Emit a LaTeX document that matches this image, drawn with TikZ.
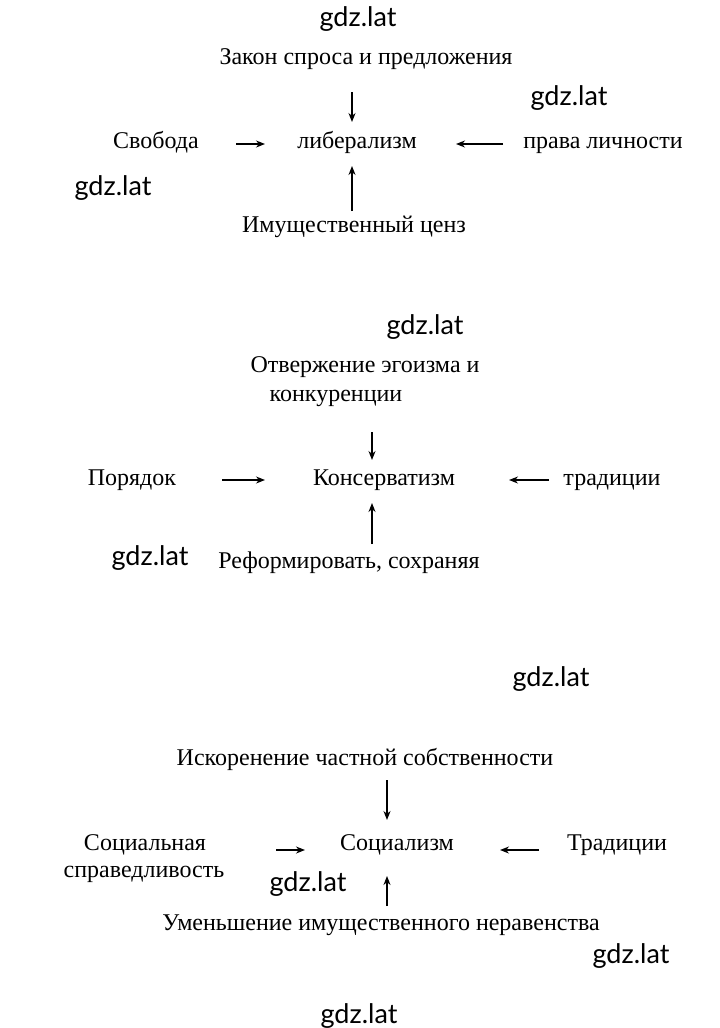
\documentclass[tikz,border=0pt]{standalone}
\usepackage{fontspec}
\setmainfont{Liberation Serif}
\newfontfamily\wmfont{Lato}
\usetikzlibrary{arrows.meta}
\tikzset{
  lbl/.style={font=\fontsize{24}{29}\selectfont, inner sep=0pt, align=center, text height=16pt, text depth=5pt},
  wm/.style={font=\wmfont\fontsize{27}{31}\selectfont, inner sep=0pt, text height=17pt, text depth=5pt},
  arr/.style={line width=1.4pt, -{Stealth[length=9pt,width=7pt]}}
}
\begin{document}
\begin{tikzpicture}[x=1pt,y=-1pt]
\useasboundingbox[fill=white] (0,0) rectangle (720,1028);
% ---- Section 1 ----
\node[wm] (w1) at (358,20) {gdz.lat};
\node[lbl] (zak) at (366,59) {Закон спроса и предложения};
\node[wm] (w2) at (569,99) {gdz.lat};
\node[lbl] (svo) at (156,143) {Свобода};
\node[lbl] (lib) at (357,143) {либерализм};
\node[lbl] (prl) at (603,143) {права личности};
\node[wm] (w3) at (113,189) {gdz.lat};
\node[lbl] (imc) at (354,227) {Имущественный ценз};
\coordinate (a1s) at (352,92);  \coordinate (a1e) at (352,122);
\coordinate (a2s) at (236,144); \coordinate (a2e) at (265,144);
\coordinate (a3s) at (503,144); \coordinate (a3e) at (456,144);
\coordinate (a4s) at (352,211); \coordinate (a4e) at (352,166);
\draw[arr] (a1s) -- (a1e);
\draw[arr] (a2s) -- (a2e);
\draw[arr] (a3s) -- (a3e);
\draw[arr] (a4s) -- (a4e);
% ---- Section 2 ----
\node[wm] (w4) at (425,328) {gdz.lat};
\node[lbl] (otv1) at (365,367) {Отвержение эгоизма и};
\node[lbl] (otv2) at (336,396) {конкуренции};
\node[lbl] (por) at (132,480) {Порядок};
\node[lbl] (kon) at (384,480) {Консерватизм};
\node[lbl] (tra) at (612,480) {традиции};
\node[wm] (w5) at (150,559) {gdz.lat};
\node[lbl] (ref) at (349,563) {Реформировать, сохраняя};
\coordinate (b1s) at (372,432); \coordinate (b1e) at (372,460);
\coordinate (b2s) at (222,480); \coordinate (b2e) at (265,480);
\coordinate (b3s) at (549,480); \coordinate (b3e) at (509,480);
\coordinate (b4s) at (372,544); \coordinate (b4e) at (372,503);
\draw[arr] (b1s) -- (b1e);
\draw[arr] (b2s) -- (b2e);
\draw[arr] (b3s) -- (b3e);
\draw[arr] (b4s) -- (b4e);
% ---- Section 3 ----
\node[wm] (w6) at (551,680) {gdz.lat};
\node[lbl] (isk) at (365,760) {Искоренение частной собственности};
\node[lbl] (soc1) at (145,845) {Социальная};
\node[lbl] (soc2) at (144,872) {справедливость};
\node[lbl] (sot) at (397,845) {Социализм};
\node[lbl] (trd) at (617,845) {Традиции};
\node[wm] (w7) at (308,885) {gdz.lat};
\node[lbl] (umn) at (381,925) {Уменьшение имущественного неравенства};
\node[wm] (w8) at (631,957) {gdz.lat};
\node[wm] (w9) at (359,1017) {gdz.lat};
\coordinate (c1s) at (387,780); \coordinate (c1e) at (387,820);
\coordinate (c2s) at (276,850); \coordinate (c2e) at (305,850);
\coordinate (c3s) at (539,850); \coordinate (c3e) at (500,850);
\coordinate (c4s) at (387,906); \coordinate (c4e) at (387,876);
\draw[arr] (c1s) -- (c1e);
\draw[arr] (c2s) -- (c2e);
\draw[arr] (c3s) -- (c3e);
\draw[arr] (c4s) -- (c4e);
\end{tikzpicture}
\end{document}
